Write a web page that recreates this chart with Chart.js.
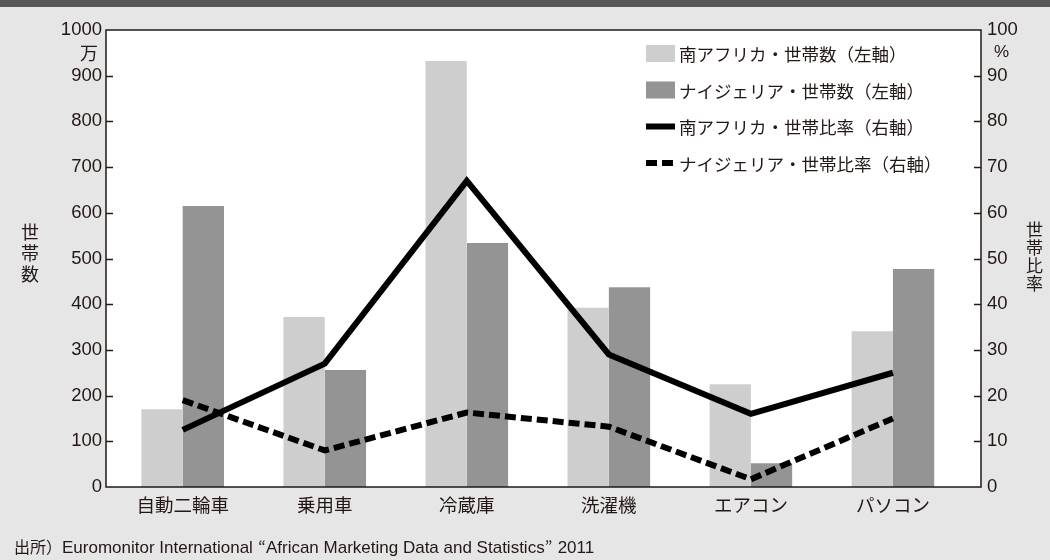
<!DOCTYPE html>
<html lang="ja">
<head>
<meta charset="utf-8">
<title>耐久消費財の世帯保有</title>
<script src="https://cdn.jsdelivr.net/npm/chart.js@4.4.1/dist/chart.umd.min.js"></script>
<style>
  html, body { margin: 0; padding: 0; }
  body {
    width: 1050px; height: 560px; position: relative; overflow: hidden;
    background: #e6e6e6; color: #231815;
    font-family: "Liberation Sans", "Noto Sans CJK JP", sans-serif;
  }
  #topbar { position: absolute; left: 0; top: 0; width: 1050px; height: 7px; background: #595757; }
  #chart-wrap { position: absolute; left: 0; top: 0; width: 1050px; height: 560px; }
  .vtitle {
    position: absolute; writing-mode: vertical-rl;
    font-family: "Noto Sans CJK JP", sans-serif; line-height: 1;
  }
  #title-left { left: 21px; top: 223px; font-size: 18px; letter-spacing: 3px; }
  #title-right { left: 1026px; top: 221px; font-size: 17px; letter-spacing: 1px; }
  .unit { position: absolute; line-height: 1; }
  #unit-left { left: 80px; top: 43px; font-size: 18px; font-family: "Noto Sans CJK JP", sans-serif; }
  #unit-right { left: 994px; top: 43px; font-size: 17px; }
  #source {
    position: absolute; left: 14px; top: 538px; font-size: 17px; line-height: 1;
    font-family: "Liberation Sans Narrow", "Liberation Sans", "Noto Sans CJK JP", sans-serif;
    white-space: nowrap;
  }
  #source .jp { font-family: "Noto Sans CJK JP", sans-serif; font-size: 16px; }
  #source .q { display: inline-block; width: 13px; font-family: "Noto Sans CJK JP", sans-serif; font-size: 16px; }
  #source .open { text-align: right; }
  #source .close { text-align: left; }
</style>
</head>
<body>
<div id="topbar"></div>
<div id="chart-wrap"><canvas id="households-canvas"></canvas></div>
<div class="vtitle" id="title-left">世帯数</div>
<div class="vtitle" id="title-right">世帯比率</div>
<div class="unit" id="unit-left">万</div>
<div class="unit" id="unit-right">%</div>
<div id="source"><span class="jp">出所）</span>Euromonitor International<span class="q open">“</span>African Marketing Data and Statistics<span class="q close">”</span>2011</div>

<script>
// 品目
const categories = ['自動二輪車', '乗用車', '冷蔵庫', '洗濯機', 'エアコン', 'パソコン'];

// 世帯数（万世帯, 左軸）
const saHouseholds = [170, 372, 932, 392, 225, 341];
const ngHouseholds = [615, 256, 534, 437, 52, 477];

// 世帯比率（%, 右軸）
const saRatio = [12.5, 27, 67, 29, 16, 25];
const ngRatio = [19, 8, 16.3, 13.2, 1.7, 15];

const seriesLabels = [
    '南アフリカ・世帯数（左軸）',
    'ナイジェリア・世帯数（左軸）',
    '南アフリカ・世帯比率（右軸）',
    'ナイジェリア・世帯比率（右軸）'
];

const INK = '#231815';
const NUM_FONT = '"Liberation Sans", "Noto Sans CJK JP", sans-serif';
const JP_FONT = '"Noto Sans CJK JP", sans-serif';

// x は品目の番号、y は値
const toPoints = (values) => values.map((v, i) => ({ x: i, y: v }));

// 白いプロット面、枠、内向きの目盛り
const framePlugin = {
    id: 'frame',
    beforeDraw(chart) {
        const { ctx, chartArea: a } = chart;
        ctx.save();
        ctx.fillStyle = '#ffffff';
        ctx.fillRect(a.left, a.top, a.width, a.height);
        ctx.restore();
    },
    afterDatasetsDraw(chart) {
        const { ctx, chartArea: a } = chart;
        ctx.save();
        ctx.strokeStyle = INK;
        ctx.lineWidth = 1.5;
        ctx.strokeRect(a.left, a.top, a.width, a.height);
        const tick = 7;
        ['y', 'y2'].forEach(id => {
            const s = chart.scales[id];
            s.ticks.forEach(t => {
                if (t.value === s.min || t.value === s.max) return;
                const py = Math.round(s.getPixelForValue(t.value)) + 0.5;
                ctx.beginPath();
                if (id === 'y') {
                    ctx.moveTo(a.left, py);
                    ctx.lineTo(a.left + tick, py);
                } else {
                    ctx.moveTo(a.right - tick, py);
                    ctx.lineTo(a.right, py);
                }
                ctx.stroke();
            });
        });
        ctx.restore();
    }
};

// 凡例はプロット面の右上に置く
const insideLegend = {
    id: 'insideLegend',
    afterDraw(chart) {
        const { ctx, chartArea: a } = chart;
        const x0 = a.left + 540;
        const y0 = a.top + 23.5;
        const step = 36.5;
        const boxW = 29;
        ctx.save();
        ctx.font = '17.5px ' + JP_FONT;
        ctx.textBaseline = 'middle';
        chart.data.datasets.forEach((ds, i) => {
            const y = y0 + i * step;
            if (ds.type === 'line') {
                ctx.strokeStyle = ds.borderColor;
                ctx.lineWidth = ds.borderWidth;
                ctx.lineCap = 'butt';
                ctx.setLineDash(ds.borderDash || []);
                ctx.beginPath();
                ctx.moveTo(x0, y);
                ctx.lineTo(x0 + boxW, y);
                ctx.stroke();
                ctx.setLineDash([]);
            } else {
                ctx.fillStyle = ds.backgroundColor;
                ctx.fillRect(x0, y - 8.5, boxW, 17);
            }
            ctx.fillStyle = INK;
            ctx.fillText(ds.label, x0 + 33, y + 1);
        });
        ctx.restore();
    }
};

const ctx = document.getElementById('households-canvas');

new Chart(ctx, {
    type: 'bar',
    data: {
        datasets: [{
            label: seriesLabels[0],
            data: toPoints(saHouseholds),
            backgroundColor: '#cdcecd',
            yAxisID: 'y',
            order: 1
        }, {
            label: seriesLabels[1],
            data: toPoints(ngHouseholds),
            backgroundColor: '#949494',
            yAxisID: 'y',
            order: 1
        }, {
            type: 'line',
            label: seriesLabels[2],
            data: toPoints(saRatio),
            borderColor: '#000000',
            borderWidth: 6,
            pointRadius: 0,
            borderCapStyle: 'butt',
            borderJoinStyle: 'miter',
            tension: 0,
            fill: false,
            yAxisID: 'y2',
            order: 0
        }, {
            type: 'line',
            label: seriesLabels[3],
            data: toPoints(ngRatio),
            borderColor: '#000000',
            borderWidth: 6,
            borderDash: [11, 5],
            pointRadius: 0,
            borderCapStyle: 'butt',
            borderJoinStyle: 'miter',
            tension: 0,
            fill: false,
            yAxisID: 'y2',
            order: 0
        }]
    },
    options: {
        responsive: true,
        maintainAspectRatio: false,
        animation: false,
        devicePixelRatio: 1,
        layout: { padding: { top: 30, bottom: 0, left: 0, right: 0 } },
        datasets: {
            bar: { categoryPercentage: 0.5815, barPercentage: 1.0 }
        },
        plugins: {
            legend: { display: false },
            tooltip: { enabled: false }
        },
        scales: {
            x: {
                type: 'linear',
                min: -0.54,
                max: 5.62,
                offset: false,
                grid: { display: false, drawTicks: false },
                border: { display: false },
                afterBuildTicks: (s) => { s.ticks = categories.map((c, i) => ({ value: i })); },
                afterFit: (s) => { s.height = 73; },
                ticks: {
                    callback: (v) => categories[v],
                    autoSkip: false,
                    maxRotation: 0,
                    padding: 7,
                    color: INK,
                    font: { family: JP_FONT, size: 18.5 }
                }
            },
            y: {
                position: 'left',
                min: 0,
                max: 1000,
                grid: { display: false, drawTicks: false },
                border: { display: false },
                afterFit: (s) => { s.width = 106; },
                ticks: {
                    stepSize: 100,
                    padding: 4,
                    color: INK,
                    callback: (v) => String(v),
                    font: { family: NUM_FONT, size: 18.5 }
                }
            },
            y2: {
                position: 'right',
                min: 0,
                max: 100,
                grid: { display: false, drawTicks: false },
                border: { display: false },
                afterFit: (s) => { s.width = 69; },
                ticks: {
                    stepSize: 10,
                    padding: 6,
                    color: INK,
                    callback: (v) => String(v),
                    font: { family: NUM_FONT, size: 18.5 }
                }
            }
        }
    },
    plugins: [framePlugin, insideLegend]
});
</script>
</body>
</html>
